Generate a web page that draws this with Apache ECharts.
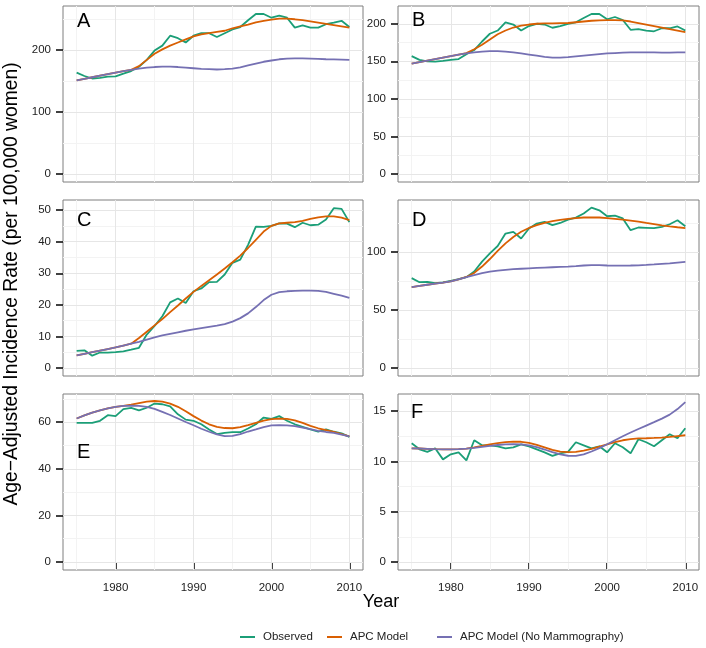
<!DOCTYPE html>
<html>
<head>
<meta charset="utf-8">
<script src="https://cdn.jsdelivr.net/npm/echarts@6/dist/echarts.min.js"></script>
<style>
html,body{margin:0;padding:0;background:#fff;}
#chart{width:706px;height:648px;}
</style>
</head>
<body>
<div id="chart"></div>
<script>
// ---------- DATA ----------
const years = [1975,1976,1977,1978,1979,1980,1981,1982,1983,1984,1985,1986,1987,1988,1989,1990,1991,1992,1993,1994,1995,1996,1997,1998,1999,2000,2001,2002,2003,2004,2005,2006,2007,2008,2009,2010];
const panelLetters = ['A','B','C','D','E','F'];
const seriesNames = ['Observed','APC Model','APC Model (No Mammography)'];

const obsA = [163.5,158,154,155,157,157.5,162,166,173,184,199,207,223,219,212,223,227,227,221,227,233,237,248,258,258,252,255.5,252,236,239.5,236,236,241.5,244,247,237];
const apcA = [151,153.5,156,158.5,161,163.5,166,168,174,184,194,201,207,212,217,222,225,227,229,231,235,238,241,244.5,247,249,250.5,250.5,249.5,248,246,244,242,240,238,236];
const nomA = [151,153.5,156,158.5,161,163.5,166,168,170,171.5,172.5,173,173,172.5,171.5,170.5,169.5,169,168.5,169,170,172,175,178,181,183,185,186,186.5,186.5,186,185.5,185,184.8,184.5,184];

const obsB = [157,152,150,149.5,150.7,152,153,159.5,165,176.4,186.7,191,202,199,191,197,200,199,194.7,197,200,202,207.6,213,213,206,209,205,192,193,191,190,194,194,196.4,191];
const apcB = [147,149,151,153,155,157,159,161,166,172,179,186,191,195,197.5,199,200,200.5,200.5,200.8,201,202,203,204,204.5,204.8,204.8,204.5,203,201,199,197,195,193,191,189];
const nomB = [147,149,151,153,155,157,159,160.5,162,163,163.5,163.5,163,162,160.5,159,157.5,156,155,155,155.5,156.5,157.5,158.5,159.5,160.5,161,161.5,161.8,162,162,161.8,161.5,161.5,161.8,162];

const obsC = [5.4,5.6,3.9,4.9,4.9,5.05,5.3,5.8,6.4,10.6,13.3,16.4,20.8,22,20.6,24.3,25.2,27.2,27.3,29.6,33.3,34.3,39,44.8,44.7,45,45.8,45.7,44.6,46,45.2,45.4,47,50.6,50.4,46.2];
const apcC = [4,4.5,5,5.5,6,6.5,7.1,7.7,9.5,11.5,13.5,15.5,17.7,19.8,22,24.1,26,27.8,29.6,31.5,33.5,35.6,38,40.6,43.2,45,45.8,46,46.2,46.6,47.2,47.7,48,48,47.6,46.8];
const nomC = [4,4.5,5,5.5,6,6.5,7.1,7.7,8.3,9,9.7,10.3,10.8,11.3,11.8,12.2,12.6,13,13.4,13.9,14.7,15.8,17.3,19.3,21.5,23.2,24,24.3,24.4,24.5,24.5,24.4,24.1,23.5,22.9,22.2];

const obsD = [77.5,74,74.3,73.2,73.8,75.2,76.6,78.3,83.2,91.7,98.9,105.2,116,117.4,111.7,120.3,124.6,126,123.2,125.1,128,129.7,133.2,138.3,136,130.9,131.5,129,118.9,121.2,120.9,120.6,121.7,124,127.4,122.3];
const apcD = [69.8,70.8,71.8,72.8,73.7,74.7,76.5,78.5,82,87.5,94,101,107.5,113,117.5,120.8,123.3,125.2,126.6,127.7,128.6,129.3,129.8,130,129.8,129.3,128.7,128,127.2,126.2,125.1,124.1,123.1,122.2,121.4,120.7];
const nomD = [69.8,70.8,71.8,72.8,73.7,74.7,76.5,78.3,80.2,81.8,83.1,84,84.7,85.2,85.6,86,86.3,86.6,86.9,87.2,87.5,87.9,88.4,88.8,88.7,88.4,88.3,88.3,88.4,88.6,88.9,89.3,89.8,90.3,90.9,91.5];

const obsE = [59.7,59.7,59.7,60.6,63,62.6,65.6,66.1,65.1,66.2,68,67.7,66.8,63.4,61.1,60.6,59.1,56.9,54.9,55.4,55.7,55.7,57.3,59.1,62,61.4,62.6,60.6,59.1,58,56.9,55.9,56.9,55.9,55.2,53.7];
const apcE = [61.6,62.9,64.1,65.1,65.9,66.6,67,67.5,68.2,68.8,69.1,68.8,68,66.6,64.7,62.6,60.7,59.1,58,57.5,57.4,57.9,58.7,59.7,60.7,61.3,61.5,61.4,60.8,59.7,58.4,57.4,56.6,55.8,54.9,53.9];
const nomE = [61.6,62.9,64.1,65.1,65.9,66.6,67,67.1,67,66.6,65.7,64.4,63.1,61.6,60.1,58.7,57.2,55.9,54.8,54,54.1,54.9,56,56.9,57.9,58.6,58.7,58.6,58.3,57.7,57,56.3,55.8,55.4,54.7,53.9];

const obsF = [11.8,11.2,10.95,11.3,10.2,10.7,10.9,10.1,12.1,11.6,11.6,11.5,11.3,11.4,11.7,11.5,11.2,10.9,10.55,10.8,10.95,11.9,11.6,11.3,11.5,10.9,11.8,11.4,10.8,12.2,11.9,11.5,12.1,12.7,12.3,13.3];
const apcF = [11.3,11.28,11.25,11.22,11.2,11.2,11.22,11.27,11.4,11.55,11.7,11.82,11.92,11.97,11.95,11.85,11.65,11.4,11.15,10.98,10.92,10.95,11.07,11.25,11.47,11.7,11.92,12.1,12.22,12.28,12.3,12.33,12.37,12.43,12.52,12.6];
const nomF = [11.3,11.28,11.25,11.22,11.2,11.2,11.22,11.27,11.35,11.45,11.55,11.63,11.7,11.72,11.7,11.6,11.42,11.18,10.92,10.7,10.56,10.55,10.7,10.98,11.32,11.7,12.1,12.5,12.87,13.22,13.56,13.9,14.25,14.65,15.2,15.9];

// axis breaks
const xMajor = [1980,1990,2000,2010];
const xMinor = [1975,1985,1995,2005];
const yMajor = [[0,100,200],[0,50,100,150,200],[0,10,20,30,40,50],[0,50,100],[0,20,40,60],[0,5,10,15]];
const yMinor = [[50,150,250],[25,75,125,175],[5,15,25,35,45],[25,75,125],[10,30,50,70],[2.5,7.5,12.5]];
const yLimits = [[-12.9,270.9],[-10.65,223.65],[-2.53,53.2],[-6.9,144.9],[-3.43,72.1],[-0.8,16.7]];
const xLimits = [1973.25,2011.75];

const observed = [obsA,obsB,obsC,obsD,obsE,obsF];
const apc = [apcA,apcB,apcC,apcD,apcE,apcF];
const noMammo = [nomA,nomB,nomC,nomD,nomE,nomF];

// ---------- LAYOUT / STYLE ----------
const FONT = 'Liberation Sans, Arial, Helvetica, sans-serif';
const colors = ['#1B9E77','#D95F02','#7570B3'];
const colLeft = [63, 398], colWidth = [300, 301];
const rowTop = [6, 200, 394], panelH = 176;
const letterPos = [[84,22],[419,21],[84,221],[419,221],[84,453],[418,413]];

const pair = (xs, ys) => xs.map((x, i) => [x, ys[i]]);

const grids = [], xAxes = [], yAxes = [], series = [], graphics = [];
for (let p = 0; p < 6; p++) {
  const col = p % 2, row = Math.floor(p / 2);
  const bottom = row === 2;
  grids.push({left: colLeft[col], top: rowTop[row], width: colWidth[col], height: panelH,
    show: true, backgroundColor: '#fff', borderColor: '#7f7f7f', borderWidth: 1, containLabel: false});
  xAxes.push({gridIndex: p, type: 'value', min: xLimits[0], max: xLimits[1],
    axisLine: {show: false}, splitLine: {show: false},
    axisTick: {show: bottom, customValues: xMajor, length: 7, lineStyle: {color: '#111', width: 1.6}},
    axisLabel: {show: bottom, customValues: xMajor, margin: 12, fontSize: 11.5, color: '#222', fontFamily: FONT,
      formatter: v => String(v)}});
  yAxes.push({gridIndex: p, type: 'value', min: yLimits[p][0], max: yLimits[p][1],
    axisLine: {show: false}, splitLine: {show: false},
    axisTick: {show: true, customValues: yMajor[p], length: 7, lineStyle: {color: '#111', width: 1.6}},
    axisLabel: {show: true, customValues: yMajor[p], margin: 12, fontSize: 11.5, color: '#222', fontFamily: FONT,
      formatter: v => String(v)}});

  const gl = [];
  yMinor[p].forEach(v => gl.push({yAxis: v, lineStyle: {color: '#f3f3f3', width: 1, type: 'solid'}}));
  xMinor.forEach(v => gl.push({xAxis: v, lineStyle: {color: '#f3f3f3', width: 1, type: 'solid'}}));
  yMajor[p].forEach(v => gl.push({yAxis: v, lineStyle: {color: '#e6e6e6', width: 1, type: 'solid'}}));
  xMajor.forEach(v => gl.push({xAxis: v, lineStyle: {color: '#e6e6e6', width: 1, type: 'solid'}}));
  series.push({type: 'line', name: '_grid' + p, xAxisIndex: p, yAxisIndex: p, data: [], z: 1, silent: true,
    markLine: {silent: true, z: 1, symbol: ['none','none'], label: {show: false}, animation: false,
      lineStyle: {type: 'solid'}, emphasis: {disabled: true}, data: gl}});

  [observed[p], apc[p], noMammo[p]].forEach((arr, k) => {
    series.push({type: 'line', name: seriesNames[k], xAxisIndex: p, yAxisIndex: p,
      data: pair(years, arr), symbol: 'none', showSymbol: false, z: 10 + k,
      lineStyle: {color: colors[k], width: 1.8}, itemStyle: {color: colors[k]},
      emphasis: {disabled: true}, animation: false});
  });

  graphics.push({type: 'text', z: 100, left: letterPos[p][0] - 7, top: letterPos[p][1] - 11,
    style: {text: panelLetters[p], font: '20px ' + FONT, fill: '#000'}});
}

graphics.push({type: 'text', z: 100, rotation: Math.PI / 2, x: 12, y: 284,
  style: {text: 'Age\u2212Adjusted Incidence Rate (per 100,000 women)', font: '19.3px ' + FONT, fill: '#000',
    align: 'center', verticalAlign: 'middle'}});
graphics.push({type: 'text', z: 100, x: 381, y: 602,
  style: {text: 'Year', font: '18px ' + FONT, fill: '#000', align: 'center', verticalAlign: 'middle'}});

const legendBase = {orient: 'horizontal', icon: 'rect', itemWidth: 15, itemHeight: 2, itemGap: 10, top: 631, padding: 0,
  textStyle: {fontSize: 11.5, color: '#222', fontFamily: FONT, padding: [0, 0, 0, 3]}, selectedMode: false};
const legends = [
  Object.assign({}, legendBase, {left: 240, data: [seriesNames[0]]}),
  Object.assign({}, legendBase, {left: 327, data: [seriesNames[1]]}),
  Object.assign({}, legendBase, {left: 437, data: [seriesNames[2]]})
];

const chart = echarts.init(document.getElementById('chart'), null, {renderer: 'canvas'});
chart.setOption({
  animation: false,
  backgroundColor: '#fff',
  grid: grids, xAxis: xAxes, yAxis: yAxes, series: series,
  legend: legends, graphic: graphics
});
</script>
</body>
</html>
